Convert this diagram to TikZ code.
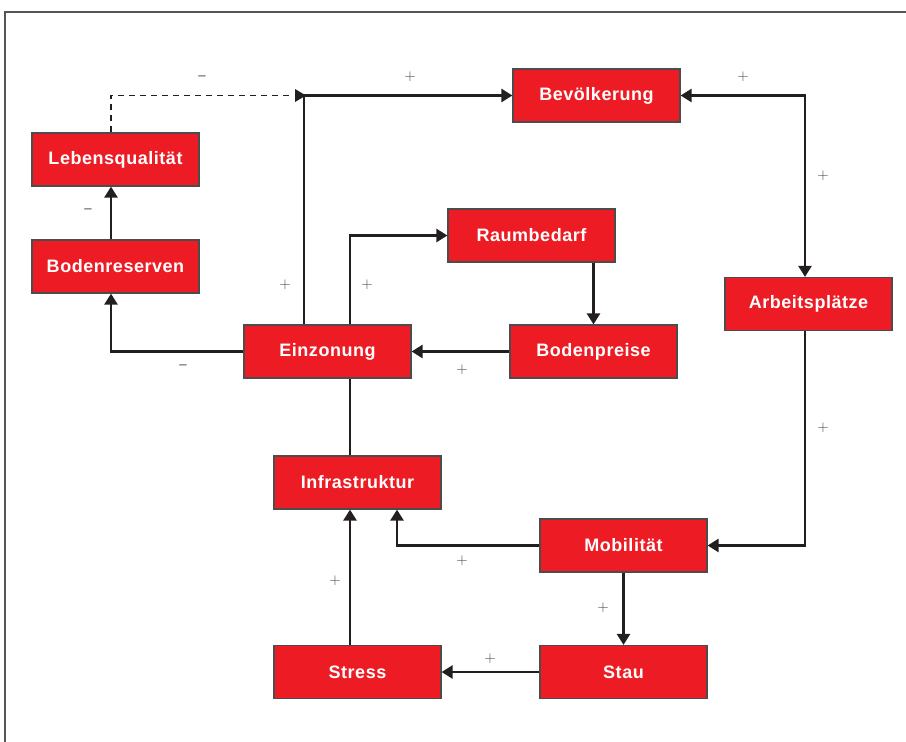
\documentclass[tikz,border=0pt]{standalone}
\usepackage{fontspec}
\newfontfamily\boxfont{Liberation Sans}[LetterSpace=3]
\usetikzlibrary{arrows.meta}
\definecolor{boxred}{HTML}{ED1C24}
\definecolor{frameg}{HTML}{555555}
\definecolor{lineg}{HTML}{231F20}
\begin{document}
\begin{tikzpicture}[x=1pt,y=-1pt,
  factor/.style={draw=black!70, line width=1.2pt, fill=boxred, text=white,
    font=\boxfont\bfseries\fontsize{18}{21}\selectfont,
    minimum width=167pt, minimum height=53pt, inner sep=0pt, anchor=center},
  link/.style={draw=lineg, line width=2.5pt, -{Triangle[length=11pt,width=13pt]}},
  plainlink/.style={draw=lineg, line width=2.5pt},
  dashlink/.style={draw=lineg, line width=1.5pt, dash pattern=on 6pt off 5pt},
  sgn/.style={text=black!75, font=\sffamily\fontsize{15}{15}\selectfont, inner sep=0pt}]
\useasboundingbox (0,0) rectangle (906,742);
\draw[frameg, line width=1.5pt] (5,742) -- (5,12) -- (906,12);

\node[factor] (bev) at (596.5,95.5) {Bevölkerung};
\node[factor] (leb) at (115.5,159.5) {Lebensqualität};
\node[factor] (raum) at (531.5,235.5) {Raumbedarf};
\node[factor] (bres) at (115.5,266.5) {Bodenreserven};
\node[factor] (arb) at (808.5,304) {Arbeitsplätze};
\node[factor] (einz) at (327.5,351.5) {Einzonung};
\node[factor] (bpr) at (593.5,351.5) {Bodenpreise};
\node[factor] (infra) at (357.5,482.5) {Infrastruktur};
\node[factor] (mob) at (623.5,545.5) {Mobilität};
\node[factor] (stress) at (357.5,672) {Stress};
\node[factor] (stau) at (623.5,672) {Stau};

\coordinate (j) at (304,95.5);

% dashed Lebensqualitaet -> junction
\draw[dashlink] (leb.north -| 111,0) -- (111,95.5) -- ([xshift=-10pt]j);
\fill[lineg] ([xshift=2pt]j) -- ++(-11,-6.5) -- ++(0,13) -- cycle;
% Einzonung -> Bevoelkerung
\draw[link] (einz.north -| j) -- (j) -- (bev.west);
% Bevoelkerung <-> Arbeitsplaetze
\draw[draw=lineg, line width=2.5pt, {Triangle[length=11pt,width=13pt]}-{Triangle[length=11pt,width=13pt]}]
  (bev.east) -| (arb.north -| 805,0);
% Arbeitsplaetze -> Mobilitaet
\draw[link] (arb.south -| 805,0) |- (mob.east);
% Mobilitaet -> Infrastruktur
\draw[link] (mob.west) -| (infra.south -| 397,0);
% Mobilitaet -> Stau
\draw[link] (mob.south) -- (stau.north);
% Stau -> Stress
\draw[link] (stau.west) -- (stress.east);
% Stress -> Infrastruktur
\draw[link] (stress.north -| 350,0) -- (infra.south -| 350,0);
% Infrastruktur -- Einzonung
\draw[plainlink] (infra.north -| 350,0) -- (einz.south -| 350,0);
% Einzonung -> Raumbedarf
\draw[link] (einz.north -| 350,0) |- (raum.west);
% Raumbedarf -> Bodenpreise
\draw[link] (raum.south -| 593.5,0) -- (bpr.north);
% Bodenpreise -> Einzonung
\draw[link] (bpr.west) -- (einz.east);
% Einzonung -> Bodenreserven
\draw[link] (einz.west) -| (bres.south -| 111,0);
% Bodenreserven -> Lebensqualitaet
\draw[link] (bres.north -| 111,0) -- (leb.south -| 111,0);

% signs
\node[sgn] (s1) at (202,78) {–};
\node[sgn] (s2) at (410,77) {+};
\node[sgn] (s3) at (743,77) {+};
\node[sgn] (s4) at (823,176) {+};
\node[sgn] (s5) at (88,211) {–};
\node[sgn] (s6) at (285,285) {+};
\node[sgn] (s7) at (367,285) {+};
\node[sgn] (s8) at (183,367) {–};
\node[sgn] (s9) at (462,370) {+};
\node[sgn] (s10) at (823,428) {+};
\node[sgn] (s11) at (462,561) {+};
\node[sgn] (s12) at (335,581) {+};
\node[sgn] (s13) at (603,608) {+};
\node[sgn] (s14) at (490,659) {+};
\end{tikzpicture}
\end{document}
